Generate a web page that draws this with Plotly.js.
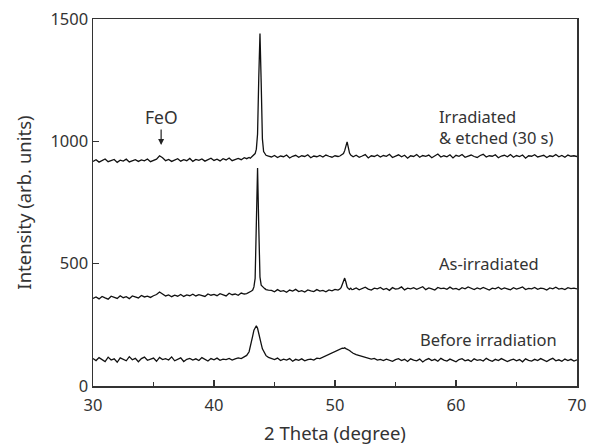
<!DOCTYPE html>
<html>
<head>
<meta charset="utf-8">
<script src="https://cdn.plot.ly/plotly-3.0.1.min.js"></script>
<style>html,body{margin:0;padding:0;background:#fff;}#chart{width:592px;height:445px;}</style>
</head>
<body>
<div id="chart"></div>
<script>
var twoTheta = [30,30.25,30.5,30.75,31,31.25,31.5,31.75,32,32.25,32.5,32.75,33,33.25,33.5,33.75,34,34.25,34.5,34.75,35,35.25,35.5,35.75,36,36.25,36.5,36.75,37,37.25,37.5,37.75,38,38.25,38.5,38.75,39,39.25,39.5,39.75,40,40.25,40.5,40.75,41,41.25,41.5,41.75,42,42.25,42.5,
42.7,42.9,43,43.1,43.2,43.3,43.4,43.5,43.6,43.7,43.8,43.9,44,44.1,44.2,44.3,44.5,
44.75,45,45.25,45.5,45.75,46,46.25,46.5,46.75,47,47.25,47.5,47.75,48,48.25,48.5,48.75,49,49.25,49.5,49.75,50,50.25,
50.4,50.5,50.6,50.7,50.8,50.9,51,51.1,51.2,51.3,51.4,
51.5,51.75,52,52.25,52.5,52.75,53,53.25,53.5,53.75,54,54.25,54.5,54.75,55,55.25,55.5,55.75,56,56.25,56.5,56.75,57,57.25,57.5,57.75,58,58.25,58.5,58.75,59,59.25,59.5,59.75,60,60.25,60.5,60.75,61,61.25,61.5,61.75,62,62.25,62.5,62.75,63,63.25,63.5,63.75,64,64.25,64.5,64.75,65,65.25,65.5,65.75,66,66.25,66.5,66.75,67,67.25,67.5,67.75,68,68.25,68.5,68.75,69,69.25,69.5,69.75,70];

var beforeIrradiation = [112,104,116,108,100,118,106,111,97,115,109,103,120,107,113,99,112,118,105,110,114,101,117,108,112,106,119,103,110,115,100,109,113,106,111,104,116,109,102,112,107,114,105,110,108,113,106,111,115,112,118,
125,140,158,178,205,228,240,246,236,218,196,172,152,140,130,124,117,
113,108,114,104,110,106,112,101,109,105,111,103,108,110,106,114,112,118,122,128,134,140,146,
149,152,155,154,156,153,151,148,145,141,137,
134,128,124,119,116,112,110,113,106,109,104,110,107,101,108,112,104,109,100,111,106,103,110,98,107,112,104,109,101,113,106,102,110,105,99,108,112,103,107,100,111,105,108,102,113,106,101,109,104,112,107,100,106,110,103,108,99,111,105,102,109,104,112,106,100,108,113,103,107,101,110,104,109,102,107];

var asIrradiated = [358,364,356,366,360,355,367,362,358,369,361,365,357,368,363,360,370,364,367,362,369,374,384,376,368,372,365,371,367,374,366,372,369,375,368,373,370,366,376,371,374,369,377,372,368,379,373,376,371,380,376,
378,382,384,388,392,405,440,640,891,650,445,412,405,402,398,394,392,
391,385,394,387,390,383,392,388,395,386,390,384,393,389,386,394,388,391,385,393,389,395,392,
396,402,415,432,441,425,405,398,395,400,394,
395,401,393,398,404,396,392,400,397,403,394,399,391,402,396,398,405,393,400,397,402,395,399,406,394,401,397,392,403,398,400,395,404,396,399,393,402,397,405,398,394,401,396,403,399,392,400,397,404,395,401,398,393,402,396,400,405,394,399,397,403,395,400,398,392,401,397,404,396,399,394,402,398,400,397];

var irradiatedEtched = [918,925,915,922,928,917,921,926,914,923,919,927,916,922,925,918,924,920,928,917,923,927,941,933,921,926,918,924,929,919,925,921,930,918,926,922,928,919,925,931,922,927,920,929,924,932,921,927,930,925,933,
929,934,931,936,938,942,950,968,1030,1260,1441,1240,1010,958,947,943,940,
936,942,934,940,937,944,932,939,943,935,941,938,945,933,940,937,942,936,944,939,935,941,938,
940,943,945,950,962,980,998,975,952,944,940,
937,943,935,940,946,932,941,938,944,936,942,939,947,934,940,945,937,943,931,941,938,946,935,942,939,944,933,940,948,936,941,937,945,932,943,939,946,935,940,944,938,934,942,947,936,941,939,945,933,940,943,937,946,935,942,938,944,931,941,939,945,936,940,943,934,941,938,946,937,942,935,944,939,941,938];

var seriesLabels = ["Before irradiation", "As-irradiated", "Irradiated<br>&amp; etched (30 s)"];
var xTicks = [30, 40, 50, 60, 70];
var yTicks = [0, 500, 1000, 1500];

var font = "Noto Sans, sans-serif";
var txt = "#333";
var lineStyle = {color: "#111", width: 1.3};

var traces = [
  {x: twoTheta, y: beforeIrradiation, mode: "lines", line: lineStyle, hoverinfo: "skip"},
  {x: twoTheta, y: asIrradiated, mode: "lines", line: lineStyle, hoverinfo: "skip"},
  {x: twoTheta, y: irradiatedEtched, mode: "lines", line: lineStyle, hoverinfo: "skip"}
];

var ann = function(text, x, y, size, anchor) {
  return {text: text, x: x, y: y, xref: "x", yref: "y", xanchor: anchor || "left", yanchor: "middle",
          align: "left", showarrow: false, borderpad: 0, font: {family: font, size: size, color: txt}};
};

var layout = {
  width: 592, height: 445,
  margin: {l: 93, r: 15, t: 19, b: 59},
  paper_bgcolor: "#fff", plot_bgcolor: "#fff",
  showlegend: false,
  font: {family: font, size: 16, color: txt},
  xaxis: {
    range: [30, 70], tickvals: xTicks, ticktext: xTicks.map(String),
    ticks: "inside", ticklen: 6, tickwidth: 1.5, tickcolor: "#333",
    minor: {ticks: "inside", ticklen: 4, tickwidth: 1.5, tickcolor: "#333", dtick: 5, tick0: 35},
    showline: true, mirror: true, linecolor: "#333", linewidth: 1.5,
    showgrid: false, zeroline: false, ticklabelstandoff: 4,
    tickfont: {family: font, size: 16.5, color: txt},
    title: {text: "2 Theta (degree)", font: {family: font, size: 18.5, color: txt}, standoff: 14}
  },
  yaxis: {
    range: [0, 1500], tickvals: yTicks, ticktext: yTicks.map(String),
    ticks: "inside", ticklen: 6, tickwidth: 1.5, tickcolor: "#333",
    showline: true, mirror: true, linecolor: "#333", linewidth: 1.5,
    showgrid: false, zeroline: false,
    tickfont: {family: font, size: 16.5, color: txt},
    title: {text: "Intensity (arb. units)", font: {family: font, size: 18.5, color: txt}, standoff: 14}
  },
  annotations: [
    ann(seriesLabels[0], 56.95, 192, 16.5),
    ann(seriesLabels[1], 58.55, 499, 16.5),
    ann(seriesLabels[2], 58.55, 1058, 16.5),
    ann("FeO", 35.63, 1100, 17.5, "center"),
    {x: 35.63, y: 985, xref: "x", yref: "y", ax: 0, ay: -17, text: "", showarrow: true,
     arrowhead: 2, arrowsize: 1, arrowwidth: 1.2, arrowcolor: "#222"}
  ]
};

Plotly.newPlot("chart", traces, layout, {staticPlot: true, displayModeBar: false});
</script>
</body>
</html>
